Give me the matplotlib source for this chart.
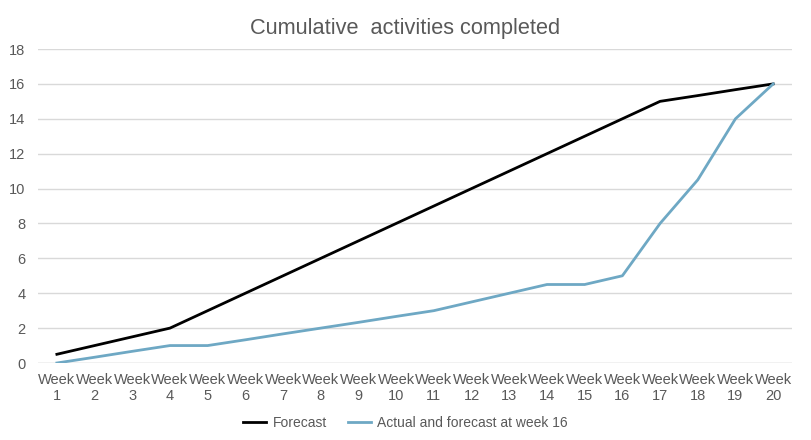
import matplotlib
matplotlib.use('Agg')
import matplotlib.pyplot as plt

plt.rcParams['font.family'] = ['Liberation Sans', 'DejaVu Sans']

weeks = [f'Week\n{i}' for i in range(1, 21)]
forecast = [0.5, 1, 1.5, 2, 3, 4, 5, 6, 7, 8, 9, 10, 11, 12, 13, 14, 15, 15.33, 15.67, 16]
actual = [0, 0.33, 0.67, 1, 1, 1.33, 1.67, 2, 2.33, 2.67, 3, 3.5, 4, 4.5, 4.5, 5, 8, 10.5, 14, 16]

TEXT = '#595959'
GRID = '#D9D9D9'

fig = plt.figure(figsize=(8.11, 4.40), dpi=100)
ax = fig.add_axes([0.0469, 0.175, 0.9297, 0.7136])

x = list(range(len(weeks)))
ax.plot(x, forecast, color='black', lw=2, label='Forecast')
ax.plot(x, actual, color='#6EA8C4', lw=2, label='Actual and forecast at week 16')

ax.set_xlim(-0.5, len(weeks) - 0.5)
ax.set_ylim(0, 18)
ax.set_yticks(range(0, 19, 2))
ax.set_xticks(x)
ax.set_xticklabels(weeks, fontsize=10.5, color=TEXT, linespacing=1.2)
ax.tick_params(axis='y', labelsize=10.5, labelcolor=TEXT, length=0, pad=9)
ax.tick_params(axis='x', length=0, pad=7)
ax.grid(axis='y', color=GRID, lw=1)
ax.set_axisbelow(True)
for s in ax.spines.values():
    s.set_visible(False)
ax.axhline(0, color=GRID, lw=1, zorder=0)

fig.suptitle('Cumulative  activities completed', y=0.96, fontsize=15.7, color=TEXT)
fig.legend(loc='center', bbox_to_anchor=(0.5, 0.038), ncol=2, frameon=False,
           fontsize=10, labelcolor=TEXT, handlelength=1.65, columnspacing=1.5,
           handletextpad=0.45)

fig.savefig('out.png', dpi=100)
